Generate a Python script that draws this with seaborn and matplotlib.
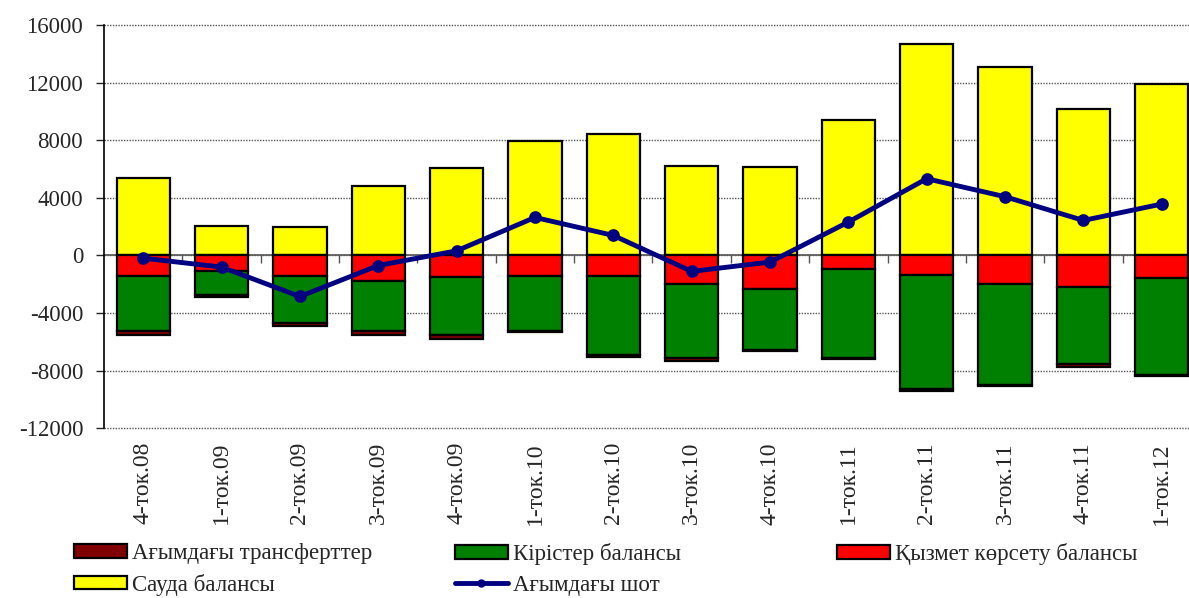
import numpy as np
import matplotlib
matplotlib.use("Agg")
import matplotlib.pyplot as plt
import matplotlib.patches as mpatches
import matplotlib.lines as mlines
import seaborn as sns

# quarters and balance components (млн. долл.)
quarters = ["4-ток.08", "1-ток.09", "2-ток.09", "3-ток.09", "4-ток.09", "1-ток.10", "2-ток.10",
            "3-ток.10", "4-ток.10", "1-ток.11", "2-ток.11", "3-ток.11", "4-ток.11", "1-ток.12"]
trade = [5350, 2040, 1990, 4840, 6070, 7970, 8430, 6210, 6140, 9380, 14680, 13060, 10190, 11880]
services = [-1450, -1090, -1440, -1760, -1480, -1440, -1410, -1970, -2340, -950, -1340, -1970, -2200, -1550]
income = [-3830, -1690, -3260, -3520, -4080, -3840, -5490, -5140, -4240, -6160, -7970, -7020, -5370, -6760]
transfers = [-280, -100, -190, -250, -250, -60, -190, -210, -60, -60, -80, -80, -210, -60]
current = [-190, -810, -2850, -700, 320, 2640, 1390, -1110, -460, 2320, 5330, 4080, 2430, 3570]

labels = ["Ағымдағы трансферттер", "Кірістер балансы", "Қызмет көрсету балансы",
          "Сауда балансы", "Ағымдағы шот"]
colors = ["#800000", "#008000", "#FF0000", "#FFFF00", "#000080"]

sns.set_style("white")
plt.rcParams["font.family"] = ["Liberation Serif", "DejaVu Serif"]
plt.rcParams["axes.unicode_minus"] = False

fig = plt.figure(figsize=(11.89, 5.98), dpi=100)
ax = fig.add_axes([0.0875, 0.284, 0.9225, 0.674])

services_arr = np.array(services)
income_arr = np.array(income)

bar_kw = dict(edgecolor="black", linewidth=1.6, width=0.68, ax=ax, zorder=3, saturation=1)
sns.barplot(x=quarters, y=trade, color=colors[3], **bar_kw)
sns.barplot(x=quarters, y=services, color=colors[2], **bar_kw)
sns.barplot(x=quarters, y=income, bottom=services_arr, color=colors[1], **bar_kw)
sns.barplot(x=quarters, y=transfers, bottom=services_arr + income_arr, color=colors[0], **bar_kw)

sns.pointplot(x=quarters, y=current, color=colors[4], markers="o", markersize=6.5,
              linewidth=3.5, errorbar=None, ax=ax, zorder=5)

ax.set_ylim(-12000, 16000)
ax.set_xlim(-0.5, 13.5)
ax.set_yticks(np.arange(-12000, 16001, 4000))
ax.yaxis.grid(True, linestyle=(0, (1, 1)), color="#555555", linewidth=1.0, zorder=0)
for gl in ax.get_ygridlines():
    gl.set_clip_on(False)
ax.set_axisbelow(True)

for s in ["top", "right", "bottom"]:
    ax.spines[s].set_visible(False)
ax.spines["left"].set_color("black")
ax.spines["left"].set_linewidth(1.2)

ax.tick_params(axis="y", which="major", direction="out", length=6, width=1, pad=9,
               labelsize=16.5, left=True)
ax.tick_params(axis="x", which="major", length=0, pad=10, labelsize=17, labelrotation=90)
ax.set_xlabel("")
ax.set_ylabel("")

# horizontal category axis at zero with ticks between categories
zero_ax = ax.secondary_xaxis(12000 / 28000)
zero_ax.set_xticks(np.arange(0.5, 13.5, 1.0))
zero_ax.tick_params(axis="x", direction="out", length=6, width=1, labelbottom=False,
                    color="#555555")
zero_ax.spines["bottom"].set_color("#555555")
zero_ax.spines["bottom"].set_linewidth(1.2)

# legend in three fixed columns
def patch(i):
    return mpatches.Patch(facecolor=colors[i], edgecolor="black", linewidth=1.6, label=labels[i])

line_handle = mlines.Line2D([], [], color=colors[4], marker="o", markersize=5,
                            linewidth=3.5, label=labels[4])

leg_kw = dict(frameon=False, fontsize=16.5, handlelength=2.3, handleheight=0.55,
              handletextpad=0.25, labelspacing=0.42, borderaxespad=0, borderpad=0,
              loc="upper left")
top = 1 - 543 / 598
fig.legend(handles=[patch(0), patch(3)], bbox_to_anchor=(74 / 1189, top), **leg_kw)
fig.legend(handles=[patch(1), line_handle], bbox_to_anchor=(455 / 1189, top), **leg_kw)
fig.legend(handles=[patch(2)], bbox_to_anchor=(837 / 1189, top), **leg_kw)

fig.savefig("out.png", dpi=100)
